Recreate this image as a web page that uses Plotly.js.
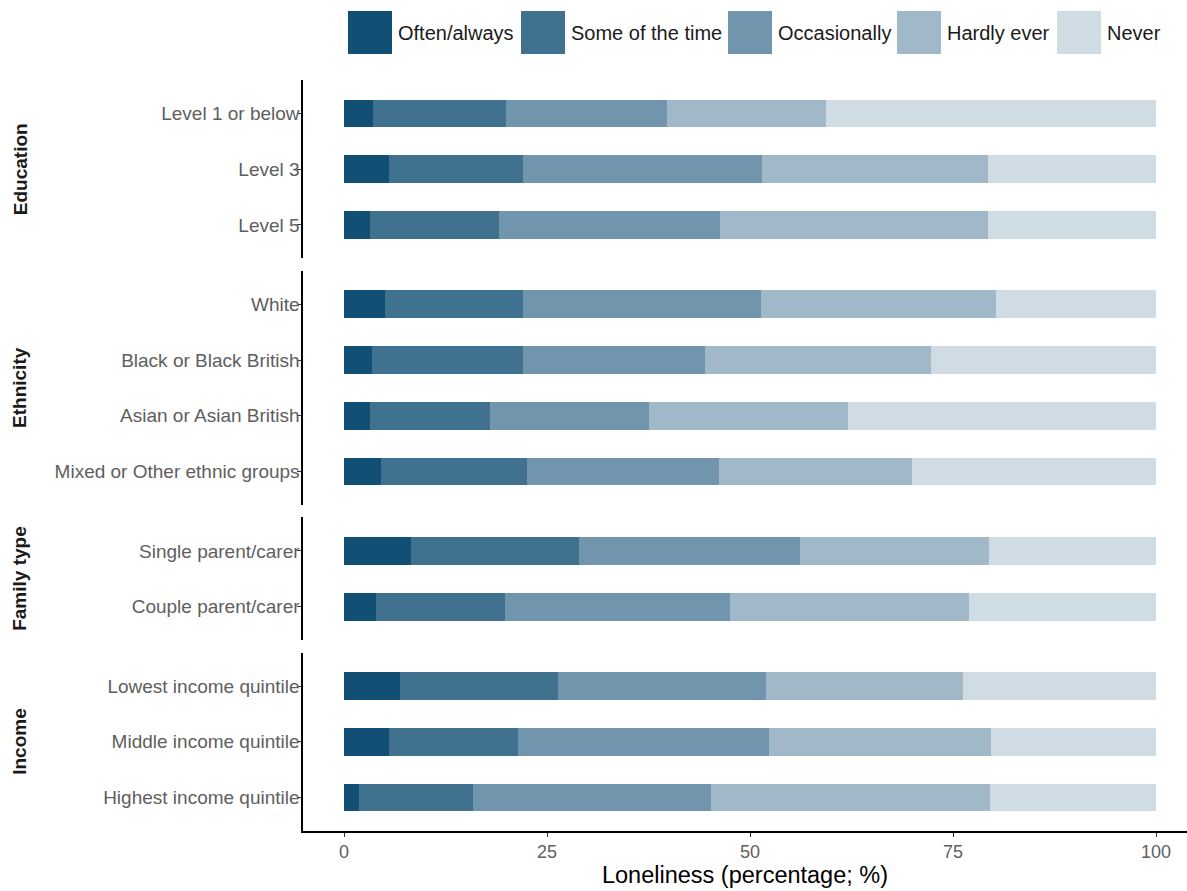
<!DOCTYPE html>
<html>
<head>
<meta charset="utf-8">
<script src="https://cdn.plot.ly/plotly-3.0.1.min.js"></script>
<style>html,body{margin:0;padding:0;background:#fff;}#chart{width:1187px;height:891px;}</style>
</head>
<body>
<div id="chart"></div>
<script>
// ---- Data ----
const seriesNames = ['Often/always', 'Some of the time', 'Occasionally', 'Hardly ever', 'Never'];
const seriesColors = ['#124f74', '#40728f', '#7195ad', '#a1b8c8', '#cfdce4'];
const facetNames = ['Education', 'Ethnicity', 'Family type', 'Income'];
const categories = [
  'Level 1 or below', 'Level 3', 'Level 5',
  'White', 'Black or Black British', 'Asian or Asian British', 'Mixed or Other ethnic groups',
  'Single parent/carer', 'Couple parent/carer',
  'Lowest income quintile', 'Middle income quintile', 'Highest income quintile'
];
const categoryFacet = [
  'Education', 'Education', 'Education',
  'Ethnicity', 'Ethnicity', 'Ethnicity', 'Ethnicity',
  'Family type', 'Family type',
  'Income', 'Income', 'Income'
];
const oftenAlways    = [3.6, 5.6, 3.2, 5.0, 3.4, 3.2, 4.6, 8.2, 4.0, 6.9, 5.5, 1.9];
const someOfTheTime  = [16.4, 16.4, 15.9, 17.0, 18.6, 14.8, 17.9, 20.8, 15.8, 19.4, 15.9, 14.0];
const occasionally   = [19.8, 29.5, 27.2, 29.3, 22.5, 19.6, 23.7, 27.2, 27.7, 25.7, 31.0, 29.3];
const hardlyEver     = [19.6, 27.8, 33.0, 29.0, 27.8, 24.5, 23.7, 23.2, 29.5, 24.2, 27.3, 34.3];
const never          = [40.6, 20.7, 20.7, 19.7, 27.7, 37.9, 30.1, 20.6, 23.0, 23.8, 20.3, 20.5];
const seriesValues = [oftenAlways, someOfTheTime, occasionally, hardlyEver, never];
const xTicks = [0, 25, 50, 75, 100];

// ---- Layout geometry (pixels) ----
const W = 1187, H = 891;
const plotLeft = 303, plotRight = 1187, plotTop = 80, plotBottom = 831;
const zeroPx = 344, hundredPx = 1156;
const pxPerUnit = (hundredPx - zeroPx) / 100;
const plotW = plotRight - plotLeft, plotH = plotBottom - plotTop;
const gapPx = 12.5, expand = 0.6;
const px2x = p => (p - plotLeft) / plotW;
const px2y = p => (plotBottom - p) / plotH;
const FONT = '"Liberation Sans", Arial, sans-serif';

const counts = facetNames.map(f => categoryFacet.filter(c => c === f).length);
const units = counts.map(n => n - 1 + 2 * expand);
const unitPx = (plotH - gapPx * (facetNames.length - 1)) / units.reduce((a, b) => a + b, 0);

const traces = [];
const layout = {
  width: W, height: H,
  margin: {l: plotLeft, r: W - plotRight, t: plotTop, b: H - plotBottom},
  paper_bgcolor: '#fff', plot_bgcolor: '#fff',
  barmode: 'stack', bargap: 0.5,
  showlegend: false,
  font: {family: FONT, size: 18, color: '#5e5e5e'},
  xaxis: {
    range: [(plotLeft - zeroPx) / pxPerUnit, (plotRight - zeroPx) / pxPerUnit],
    tickvals: xTicks, ticktext: xTicks.map(String),
    ticks: 'outside', ticklen: 4, tickwidth: 1, tickcolor: '#333',
    showline: true, linecolor: '#000', linewidth: 1.6,
    showgrid: false, zeroline: false,
    tickfont: {size: 18, color: '#5e5e5e'},
    title: {text: 'Loneliness (percentage; %)', font: {size: 23.5, color: '#000'}, standoff: 4},
    anchor: 'y4', fixedrange: true
  },
  annotations: [], shapes: []
};

let cursorTop = plotTop;
facetNames.forEach((f, i) => {
  const hPx = units[i] * unitPx;
  const top = cursorTop, bottom = cursorTop + hPx;
  cursorTop = bottom + gapPx;
  const axName = i === 0 ? 'yaxis' : 'yaxis' + (i + 1);
  const axRef = i === 0 ? 'y' : 'y' + (i + 1);
  const cats = categories.filter((c, k) => categoryFacet[k] === f);
  layout[axName] = {
    domain: [Math.max(0, px2y(bottom)), Math.min(1, px2y(top))],
    type: 'category', categoryorder: 'array', categoryarray: cats,
    range: [cats.length - 1 + expand, -expand],
    anchor: 'x',
    ticks: 'outside', ticklen: 4, tickwidth: 1, tickcolor: '#333',
    showline: true, linecolor: '#000', linewidth: 1.6,
    showgrid: false, zeroline: false,
    tickfont: {size: 19, color: '#5e5e5e'},
    ticklabelstandoff: -6,
    fixedrange: true
  };
  layout.annotations.push({
    xref: 'paper', yref: 'paper',
    x: px2x(20), y: px2y((top + bottom) / 2),
    text: '<b>' + f + '</b>', textangle: -90, showarrow: false,
    xanchor: 'center', yanchor: 'middle',
    font: {size: 19, color: '#1a1a1a', family: FONT}
  });
  seriesNames.forEach((s, j) => {
    const xs = [], ys = [];
    categories.forEach((c, k) => {
      if (categoryFacet[k] === f) { xs.push(seriesValues[j][k]); ys.push(c); }
    });
    traces.push({
      type: 'bar', orientation: 'h', name: s,
      x: xs, y: ys, xaxis: 'x', yaxis: axRef,
      marker: {color: seriesColors[j], line: {width: 0}},
      hovertemplate: '%{y}<br>' + s + ': %{x}%<extra></extra>'
    });
  });
});

// custom legend with large swatches
const legendLeft = [348, 521, 728, 897, 1057];
const legendTop = 11, legendBottom = 54, swatch = 44;
seriesNames.forEach((s, j) => {
  layout.shapes.push({
    type: 'rect', xref: 'paper', yref: 'paper',
    x0: px2x(legendLeft[j]), x1: px2x(legendLeft[j] + swatch),
    y0: px2y(legendBottom), y1: px2y(legendTop),
    fillcolor: seriesColors[j], line: {width: 0}
  });
  layout.annotations.push({
    xref: 'paper', yref: 'paper',
    x: px2x(legendLeft[j] + swatch + 4), y: px2y((legendTop + legendBottom) / 2),
    text: s, showarrow: false, xanchor: 'left', yanchor: 'middle',
    font: {size: 20, color: '#1a1a1a', family: FONT}
  });
});

Plotly.newPlot('chart', traces, layout, {displayModeBar: false, staticPlot: true});
</script>
</body>
</html>
